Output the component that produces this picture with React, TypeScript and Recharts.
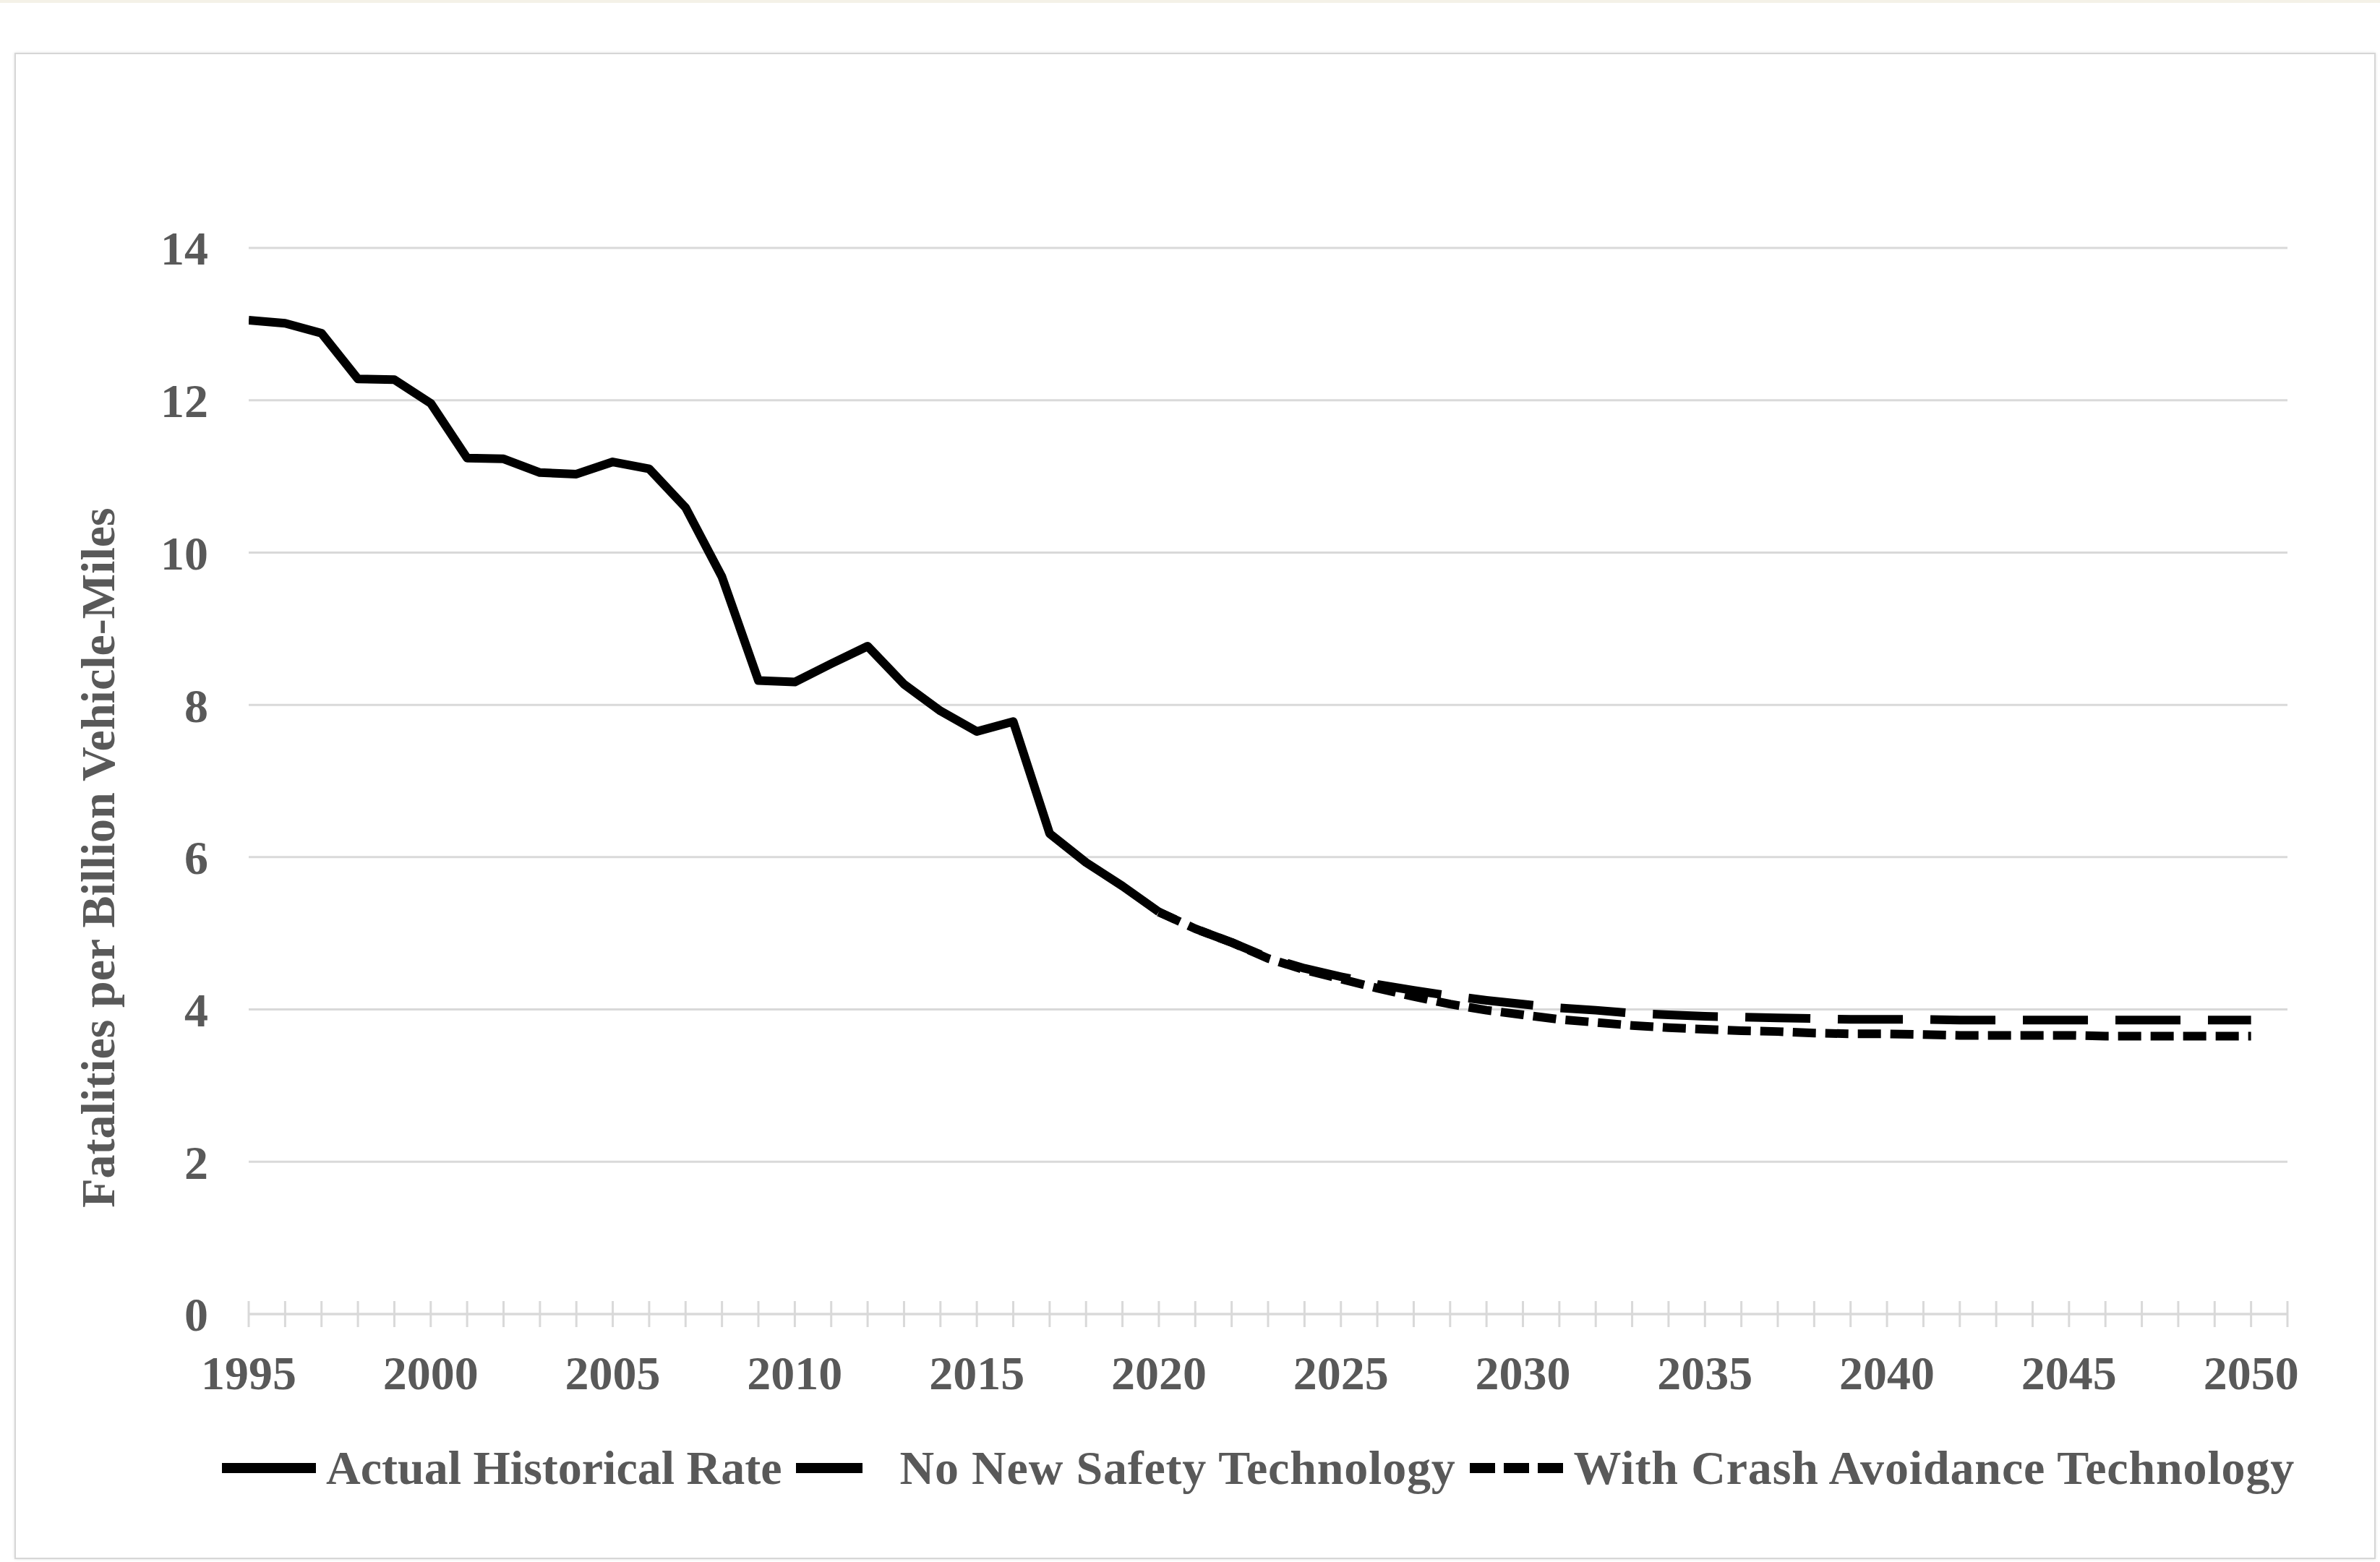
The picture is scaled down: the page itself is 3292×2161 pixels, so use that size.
import React from 'react';
import { LineChart, Line, XAxis, YAxis, CartesianGrid, Legend, Label } from 'recharts';

// ---------- data ----------
const historicalYears = [1995, 1996, 1997, 1998, 1999, 2000, 2001, 2002, 2003, 2004, 2005, 2006, 2007, 2008, 2009, 2010, 2011, 2012, 2013, 2014, 2015, 2016, 2017, 2018, 2019, 2020];
const actualHistoricalRate = [13.05, 13.01, 12.88, 12.28, 12.27, 11.96, 11.24, 11.23, 11.05, 11.03, 11.19, 11.1, 10.59, 9.68, 8.32, 8.3, 8.54, 8.77, 8.27, 7.92, 7.65, 7.78, 6.31, 5.93, 5.62, 5.28];

const projectionYears = [2020, 2021, 2022, 2023, 2024, 2025, 2026, 2027, 2028, 2029, 2030, 2031, 2032, 2033, 2034, 2035, 2036, 2037, 2038, 2039, 2040, 2041, 2042, 2043, 2044, 2045, 2046, 2047, 2048, 2049, 2050];
const noNewSafetyTech = [5.28, 5.06, 4.88, 4.68, 4.54, 4.43, 4.33, 4.25, 4.18, 4.12, 4.07, 4.02, 3.99, 3.95, 3.93, 3.91, 3.9, 3.89, 3.88, 3.87, 3.87, 3.87, 3.86, 3.86, 3.86, 3.86, 3.86, 3.86, 3.86, 3.86, 3.86];
const withCrashAvoidance = [5.28, 5.06, 4.88, 4.67, 4.52, 4.4, 4.28, 4.17, 4.07, 3.99, 3.93, 3.87, 3.83, 3.79, 3.76, 3.74, 3.72, 3.71, 3.69, 3.68, 3.68, 3.67, 3.66, 3.66, 3.66, 3.66, 3.65, 3.65, 3.65, 3.65, 3.65];

const xTickYears = [1995, 1996, 1997, 1998, 1999, 2000, 2001, 2002, 2003, 2004, 2005, 2006, 2007, 2008, 2009, 2010, 2011, 2012, 2013, 2014, 2015, 2016, 2017, 2018, 2019, 2020, 2021, 2022, 2023, 2024, 2025, 2026, 2027, 2028, 2029, 2030, 2031, 2032, 2033, 2034, 2035, 2036, 2037, 2038, 2039, 2040, 2041, 2042, 2043, 2044, 2045, 2046, 2047, 2048, 2049, 2050, 2051];
const xLabelYears = [1995, 2000, 2005, 2010, 2015, 2020, 2025, 2030, 2035, 2040, 2045, 2050];
const yTicks = [0, 2, 4, 6, 8, 10, 12, 14];

const SERIES = [
  { key: 'historical', name: 'Actual Historical Rate', legendDash: undefined as string | undefined, spacing: 0 },
  { key: 'noNew', name: 'No New Safety Technology', legendDash: '92 60', spacing: 0.8 },
  { key: 'crash', name: 'With Crash Avoidance Technology', legendDash: '35 12', spacing: 0.85 },
];

// build the table the library needs
const allYears = Array.from(new Set([...historicalYears, ...projectionYears])).sort((a, b) => a - b);
const tableData = allYears.map((yr) => {
  const hi = historicalYears.indexOf(yr);
  const pi = projectionYears.indexOf(yr);
  return {
    year: yr,
    historical: hi >= 0 ? actualHistoricalRate[hi] : null,
    noNew: pi >= 0 ? noNewSafetyTech[pi] : null,
    crash: pi >= 0 ? withCrashAvoidance[pi] : null,
  };
});

// ---------- style ----------
const W = 3292;
const H = 2161;
const TEXT = '#595959';
const GRID = '#d9d9d9';
const FONT = '"Liberation Serif", "Times New Roman", Times, serif';
const LINE_W = 12;

const XTick = (props: any) => {
  const { x, y, payload } = props;
  const v = payload.value;
  return (
    <g>
      <line x1={x} x2={x} y1={y - 18} y2={y + 18} stroke={GRID} strokeWidth={3} />
      {xLabelYears.includes(v) && (
        <text x={x} y={y + 104} textAnchor="middle" fill={TEXT} fontFamily={FONT} fontWeight="bold" fontSize={66}>
          {v}
        </text>
      )}
    </g>
  );
};

const renderLegend = (props: any) => {
  const payload = props.payload || [];
  return (
    <div
      style={{
        display: 'flex',
        alignItems: 'center',
        height: 66,
        fontFamily: FONT,
        fontSize: 66,
        fontWeight: 'bold',
        lineHeight: '66px',
        color: TEXT,
        whiteSpace: 'nowrap',
      }}
    >
      {payload.map((entry: any, i: number) => {
        const s = SERIES.find((d) => d.key === entry.dataKey || d.name === entry.value) || SERIES[i];
        return (
          <div key={i} style={{ display: 'flex', alignItems: 'center', marginRight: 19 }}>
            <svg width={130} height={20} style={{ display: 'block' }}>
              <line x1={0} y1={10} x2={130} y2={10} stroke="#000" strokeWidth={14} strokeDasharray={s.legendDash} />
            </svg>
            <span style={{ marginLeft: 14, letterSpacing: s.spacing }}>{s.name}</span>
          </div>
        );
      })}
    </div>
  );
};

const YLabel = (props: any) => {
  const vb = props.viewBox || { x: 0, y: 0, width: 0, height: 0 };
  const cx = vb.x + 158;
  const cy = vb.y + vb.height / 2 + 106;
  return (
    <text
      x={cx}
      y={cy}
      transform={`rotate(-90 ${cx} ${cy})`}
      textAnchor="middle"
      fill={TEXT}
      fontFamily={FONT}
      fontWeight="bold"
      fontSize={66}
    >
      Fatalities per Billion Vehicle-Miles
    </text>
  );
};

export default function App() {
  return (
    <div style={{ position: 'relative', width: W, height: H, background: '#fff', overflow: 'hidden' }}>
      <style>{'html,body{margin:0;padding:0;background:#fff;overflow:hidden}'}</style>
      <div style={{ position: 'absolute', left: 0, top: 0, width: W, height: 4, background: '#f4f1e7' }} />
      <div
        style={{
          position: 'absolute',
          left: 20,
          top: 73,
          width: 3262,
          height: 2080,
          border: '2px solid #d6d6d6',
          boxShadow: '0 0 4px rgba(0,0,0,0.12)',
          background: '#fff',
        }}
      />
      <div style={{ position: 'absolute', left: 0, top: 0 }}>
        <LineChart width={W} height={H} data={tableData} margin={{ top: 343, right: 128, left: 0, bottom: 243 }}>
          <CartesianGrid vertical={false} stroke={GRID} strokeWidth={3} />
          <XAxis
            dataKey="year"
            type="number"
            domain={[1995, 2051]}
            ticks={xTickYears}
            interval={0}
            height={100}
            tickSize={0}
            tickMargin={0}
            tickLine={false}
            axisLine={{ stroke: GRID, strokeWidth: 3 }}
            tick={<XTick />}
            allowDataOverflow
          />
          <YAxis
            type="number"
            domain={[0, 14]}
            ticks={yTicks}
            interval={0}
            width={344}
            tickSize={0}
            tickMargin={56}
            axisLine={false}
            tickLine={false}
            tick={{ fill: TEXT, fontSize: 66, fontFamily: FONT, fontWeight: 'bold' }}
            label={<Label content={<YLabel />} />}
          />
          <Legend
            verticalAlign="middle"
            layout="horizontal"
            align="center"
            content={renderLegend}
            wrapperStyle={{ left: 307, top: 1998, width: 'auto', height: 66 }}
          />
          <Line
            type="linear"
            dataKey="historical"
            name="Actual Historical Rate"
            stroke="#000"
            strokeWidth={LINE_W}
            strokeLinejoin="round"
            dot={false}
            activeDot={false}
            isAnimationActive={false}
          />
          <Line
            type="linear"
            dataKey="noNew"
            name="No New Safety Technology"
            stroke="#000"
            strokeWidth={LINE_W}
            strokeDasharray="90 38"
            strokeDashoffset={65}
            strokeLinejoin="round"
            dot={false}
            activeDot={false}
            isAnimationActive={false}
          />
          <Line
            type="linear"
            dataKey="crash"
            name="With Crash Avoidance Technology"
            stroke="#000"
            strokeWidth={LINE_W}
            strokeDasharray="32 13"
            strokeLinejoin="round"
            dot={false}
            activeDot={false}
            isAnimationActive={false}
          />
        </LineChart>
      </div>
    </div>
  );
}
